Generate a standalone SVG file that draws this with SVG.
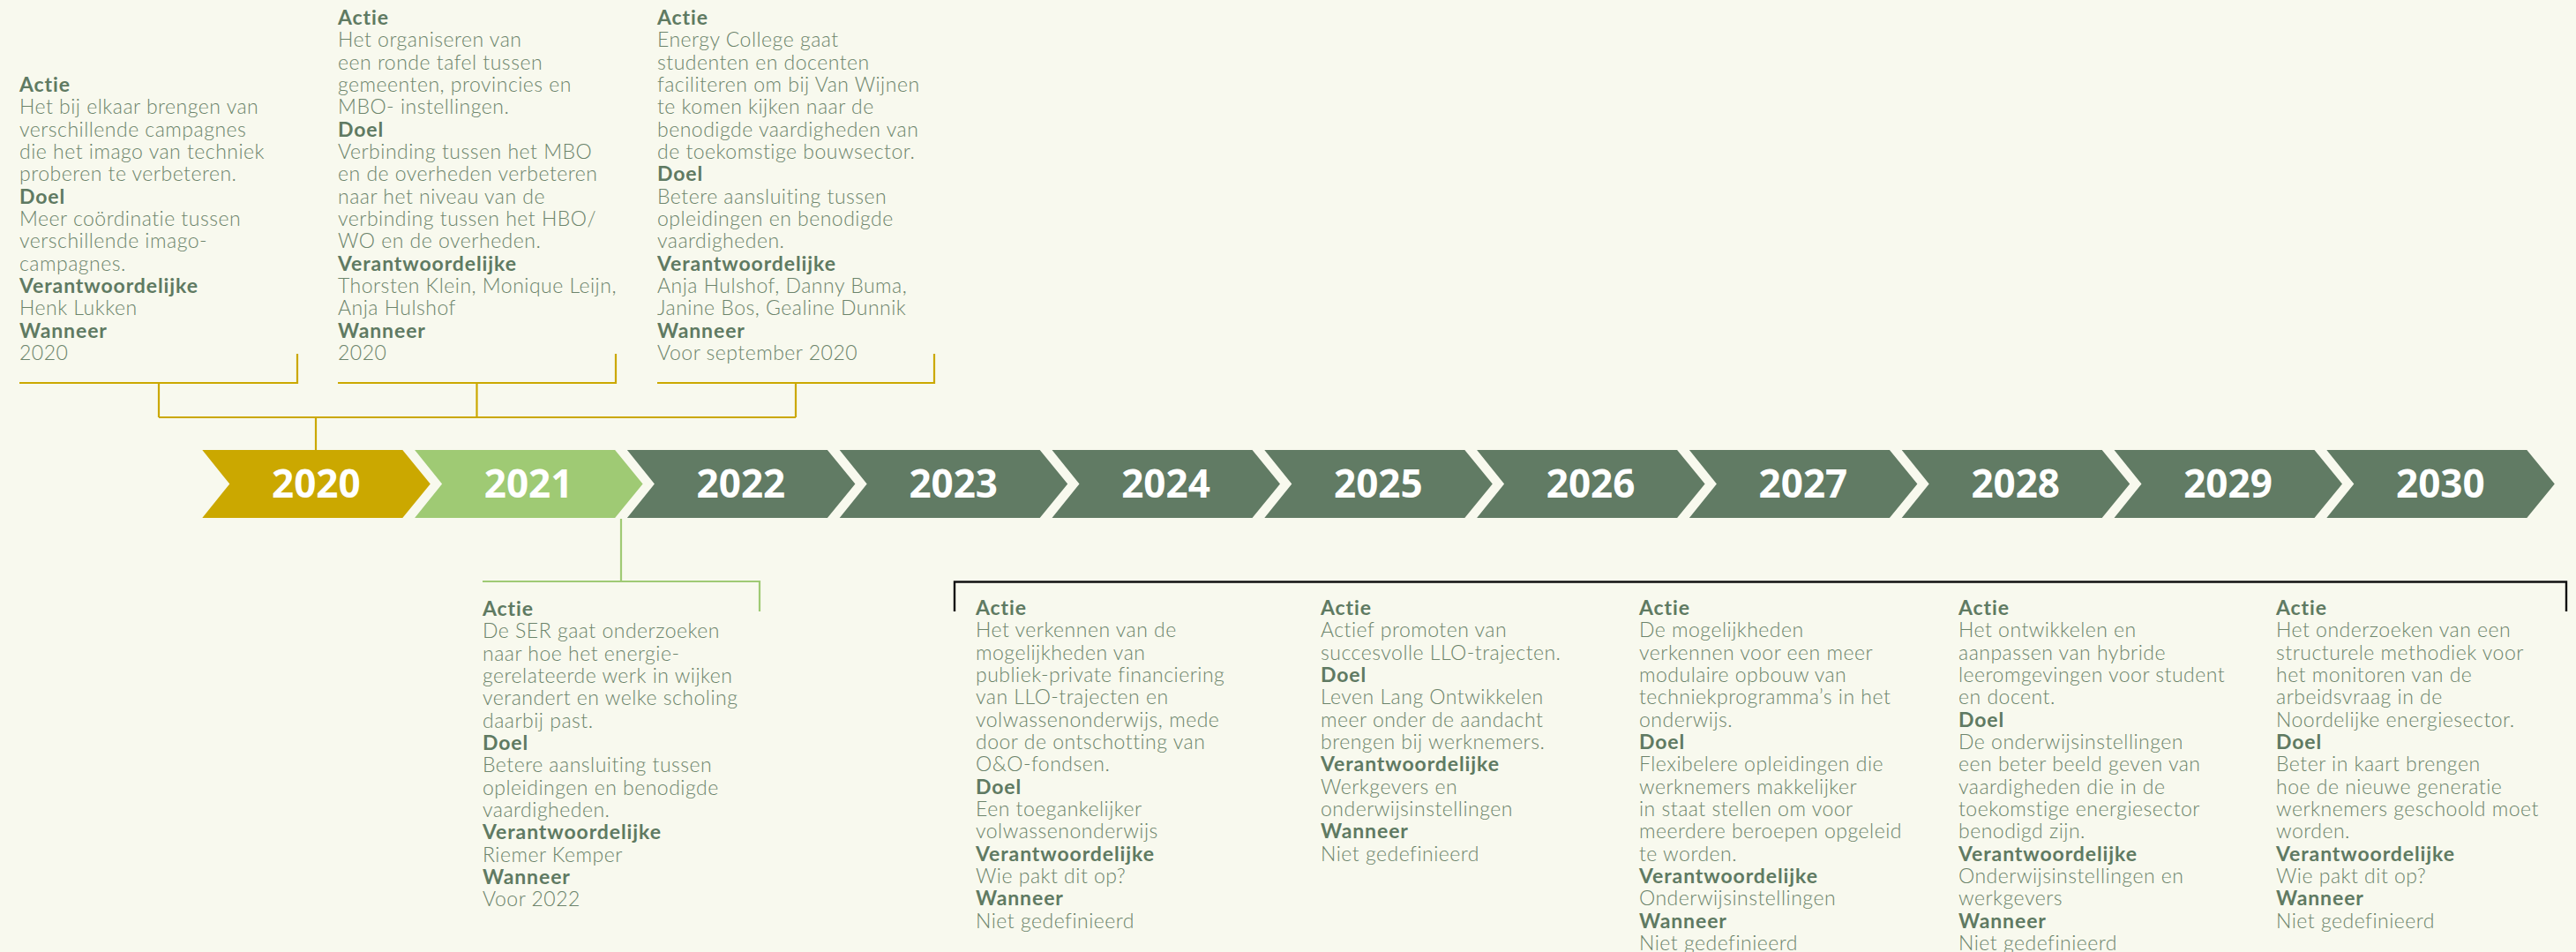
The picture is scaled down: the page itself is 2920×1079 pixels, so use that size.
<svg xmlns="http://www.w3.org/2000/svg" width="2920" height="1079" viewBox="0 0 2920 1079">
<style>
.bg{fill:#F8F9EE}
.y20{fill:#CBA800}
.y21{fill:#9FCA74}
.yd{fill:#617B64}
.yl{font-family:"Open Sans","Noto Sans",sans-serif;font-weight:700;font-size:44px;fill:#ffffff;text-anchor:middle}
.card{font-family:Lato,"Liberation Sans",sans-serif;font-size:23px;font-weight:300;letter-spacing:0.5px;fill:#6C846B}
.h{font-weight:700;letter-spacing:0.9px;fill:#5F7A62}
.c-gold{stroke:#CBA800;stroke-width:2.2;fill:none}
.c-green{stroke:#9FCA74;stroke-width:2.2;fill:none}
.c-black{stroke:#111111;stroke-width:2.4;fill:none}
</style>
<defs>
<path id="chev" d="M0,510 L227,510 L258.5,548.5 L227,587 L0,587 L31,548.5 Z"/>
</defs>
<rect class="bg" x="0" y="0" width="2920" height="1079"/>

<g id="connectors">
<polyline class="c-gold" points="22,434 337,434 337,401"/>
<polyline class="c-gold" points="383,434 698,434 698,401"/>
<polyline class="c-gold" points="745,434 1059,434 1059,401"/>
<line class="c-gold" x1="180" y1="434" x2="180" y2="473"/>
<line class="c-gold" x1="540.5" y1="434" x2="540.5" y2="473"/>
<line class="c-gold" x1="902" y1="434" x2="902" y2="473"/>
<line class="c-gold" x1="180" y1="473" x2="902" y2="473"/>
<line class="c-gold" x1="358" y1="473" x2="358" y2="510"/>
<line class="c-green" x1="704" y1="588" x2="704" y2="659"/>
<polyline class="c-green" points="547,659 861,659 861,693"/>
<polyline class="c-black" points="1082,693 1082,659.5 2909,659.5 2909,693"/>
</g>

<g id="year-2020"><use href="#chev" x="229.3" class="y20"/><text class="yl" x="358.3" y="564">2020</text></g>
<g id="year-2021"><use href="#chev" x="470.1" class="y21"/><text class="yl" x="599.1" y="564">2021</text></g>
<g id="year-2022"><use href="#chev" x="710.9" class="yd"/><text class="yl" x="839.9" y="564">2022</text></g>
<g id="year-2023"><use href="#chev" x="951.7" class="yd"/><text class="yl" x="1080.7" y="564">2023</text></g>
<g id="year-2024"><use href="#chev" x="1192.5" class="yd"/><text class="yl" x="1321.5" y="564">2024</text></g>
<g id="year-2025"><use href="#chev" x="1433.3" class="yd"/><text class="yl" x="1562.3" y="564">2025</text></g>
<g id="year-2026"><use href="#chev" x="1674.1" class="yd"/><text class="yl" x="1803.1" y="564">2026</text></g>
<g id="year-2027"><use href="#chev" x="1914.9" class="yd"/><text class="yl" x="2043.9" y="564">2027</text></g>
<g id="year-2028"><use href="#chev" x="2155.7" class="yd"/><text class="yl" x="2284.7" y="564">2028</text></g>
<g id="year-2029"><use href="#chev" x="2396.5" class="yd"/><text class="yl" x="2525.5" y="564">2029</text></g>
<g id="year-2030"><use href="#chev" x="2637.3" class="yd"/><text class="yl" x="2766.3" y="564">2030</text></g>

<g id="card-2020-a">
<text class="card" x="22" y="104">
<tspan class="h" x="22">Actie</tspan>
<tspan x="22" dy="25.33">Het bij elkaar brengen van</tspan>
<tspan x="22" dy="25.33">verschillende campagnes</tspan>
<tspan x="22" dy="25.33">die het imago van techniek</tspan>
<tspan x="22" dy="25.33">proberen te verbeteren.</tspan>
<tspan class="h" x="22" dy="25.33">Doel</tspan>
<tspan x="22" dy="25.33">Meer coördinatie tussen</tspan>
<tspan x="22" dy="25.33">verschillende imago-</tspan>
<tspan x="22" dy="25.33">campagnes.</tspan>
<tspan class="h" x="22" dy="25.33">Verantwoordelijke</tspan>
<tspan x="22" dy="25.33">Henk Lukken</tspan>
<tspan class="h" x="22" dy="25.33">Wanneer</tspan>
<tspan x="22" dy="25.33">2020</tspan>
</text>
</g>

<g id="card-2020-b">
<text class="card" x="383" y="28">
<tspan class="h" x="383">Actie</tspan>
<tspan x="383" dy="25.33">Het organiseren van</tspan>
<tspan x="383" dy="25.33">een ronde tafel tussen</tspan>
<tspan x="383" dy="25.33">gemeenten, provincies en</tspan>
<tspan x="383" dy="25.33">MBO- instellingen.</tspan>
<tspan class="h" x="383" dy="25.33">Doel</tspan>
<tspan x="383" dy="25.33">Verbinding tussen het MBO</tspan>
<tspan x="383" dy="25.33">en de overheden verbeteren</tspan>
<tspan x="383" dy="25.33">naar het niveau van de</tspan>
<tspan x="383" dy="25.33">verbinding tussen het HBO/</tspan>
<tspan x="383" dy="25.33">WO en de overheden.</tspan>
<tspan class="h" x="383" dy="25.33">Verantwoordelijke</tspan>
<tspan x="383" dy="25.33">Thorsten Klein, Monique Leijn,</tspan>
<tspan x="383" dy="25.33">Anja Hulshof</tspan>
<tspan class="h" x="383" dy="25.33">Wanneer</tspan>
<tspan x="383" dy="25.33">2020</tspan>
</text>
</g>

<g id="card-2020-c">
<text class="card" x="745" y="28">
<tspan class="h" x="745">Actie</tspan>
<tspan x="745" dy="25.33">Energy College gaat</tspan>
<tspan x="745" dy="25.33">studenten en docenten</tspan>
<tspan x="745" dy="25.33">faciliteren om bij Van Wijnen</tspan>
<tspan x="745" dy="25.33">te komen kijken naar de</tspan>
<tspan x="745" dy="25.33">benodigde vaardigheden van</tspan>
<tspan x="745" dy="25.33">de toekomstige bouwsector.</tspan>
<tspan class="h" x="745" dy="25.33">Doel</tspan>
<tspan x="745" dy="25.33">Betere aansluiting tussen</tspan>
<tspan x="745" dy="25.33">opleidingen en benodigde</tspan>
<tspan x="745" dy="25.33">vaardigheden.</tspan>
<tspan class="h" x="745" dy="25.33">Verantwoordelijke</tspan>
<tspan x="745" dy="25.33">Anja Hulshof, Danny Buma,</tspan>
<tspan x="745" dy="25.33">Janine Bos, Gealine Dunnik</tspan>
<tspan class="h" x="745" dy="25.33">Wanneer</tspan>
<tspan x="745" dy="25.33">Voor september 2020</tspan>
</text>
</g>

<g id="card-2021">
<text class="card" x="547" y="698">
<tspan class="h" x="547">Actie</tspan>
<tspan x="547" dy="25.33">De SER gaat onderzoeken</tspan>
<tspan x="547" dy="25.33">naar hoe het energie-</tspan>
<tspan x="547" dy="25.33">gerelateerde werk in wijken</tspan>
<tspan x="547" dy="25.33">verandert en welke scholing</tspan>
<tspan x="547" dy="25.33">daarbij past.</tspan>
<tspan class="h" x="547" dy="25.33">Doel</tspan>
<tspan x="547" dy="25.33">Betere aansluiting tussen</tspan>
<tspan x="547" dy="25.33">opleidingen en benodigde</tspan>
<tspan x="547" dy="25.33">vaardigheden.</tspan>
<tspan class="h" x="547" dy="25.33">Verantwoordelijke</tspan>
<tspan x="547" dy="25.33">Riemer Kemper</tspan>
<tspan class="h" x="547" dy="25.33">Wanneer</tspan>
<tspan x="547" dy="25.33">Voor 2022</tspan>
</text>
</g>

<g id="card-later-1">
<text class="card" x="1106" y="697">
<tspan class="h" x="1106">Actie</tspan>
<tspan x="1106" dy="25.33">Het verkennen van de</tspan>
<tspan x="1106" dy="25.33">mogelijkheden van</tspan>
<tspan x="1106" dy="25.33">publiek-private financiering</tspan>
<tspan x="1106" dy="25.33">van LLO-trajecten en</tspan>
<tspan x="1106" dy="25.33">volwassenonderwijs, mede</tspan>
<tspan x="1106" dy="25.33">door de ontschotting van</tspan>
<tspan x="1106" dy="25.33">O&amp;O-fondsen.</tspan>
<tspan class="h" x="1106" dy="25.33">Doel</tspan>
<tspan x="1106" dy="25.33">Een toegankelijker</tspan>
<tspan x="1106" dy="25.33">volwassenonderwijs</tspan>
<tspan class="h" x="1106" dy="25.33">Verantwoordelijke</tspan>
<tspan x="1106" dy="25.33">Wie pakt dit op?</tspan>
<tspan class="h" x="1106" dy="25.33">Wanneer</tspan>
<tspan x="1106" dy="25.33">Niet gedefinieerd</tspan>
</text>
</g>

<g id="card-later-2">
<text class="card" x="1497" y="697">
<tspan class="h" x="1497">Actie</tspan>
<tspan x="1497" dy="25.33">Actief promoten van</tspan>
<tspan x="1497" dy="25.33">succesvolle LLO-trajecten.</tspan>
<tspan class="h" x="1497" dy="25.33">Doel</tspan>
<tspan x="1497" dy="25.33">Leven Lang Ontwikkelen</tspan>
<tspan x="1497" dy="25.33">meer onder de aandacht</tspan>
<tspan x="1497" dy="25.33">brengen bij werknemers.</tspan>
<tspan class="h" x="1497" dy="25.33">Verantwoordelijke</tspan>
<tspan x="1497" dy="25.33">Werkgevers en</tspan>
<tspan x="1497" dy="25.33">onderwijsinstellingen</tspan>
<tspan class="h" x="1497" dy="25.33">Wanneer</tspan>
<tspan x="1497" dy="25.33">Niet gedefinieerd</tspan>
</text>
</g>

<g id="card-later-3">
<text class="card" x="1858" y="697">
<tspan class="h" x="1858">Actie</tspan>
<tspan x="1858" dy="25.33">De mogelijkheden</tspan>
<tspan x="1858" dy="25.33">verkennen voor een meer</tspan>
<tspan x="1858" dy="25.33">modulaire opbouw van</tspan>
<tspan x="1858" dy="25.33">techniekprogramma’s in het</tspan>
<tspan x="1858" dy="25.33">onderwijs.</tspan>
<tspan class="h" x="1858" dy="25.33">Doel</tspan>
<tspan x="1858" dy="25.33">Flexibelere opleidingen die</tspan>
<tspan x="1858" dy="25.33">werknemers makkelijker</tspan>
<tspan x="1858" dy="25.33">in staat stellen om voor</tspan>
<tspan x="1858" dy="25.33">meerdere beroepen opgeleid</tspan>
<tspan x="1858" dy="25.33">te worden.</tspan>
<tspan class="h" x="1858" dy="25.33">Verantwoordelijke</tspan>
<tspan x="1858" dy="25.33">Onderwijsinstellingen</tspan>
<tspan class="h" x="1858" dy="25.33">Wanneer</tspan>
<tspan x="1858" dy="25.33">Niet gedefinieerd</tspan>
</text>
</g>

<g id="card-later-4">
<text class="card" x="2220" y="697">
<tspan class="h" x="2220">Actie</tspan>
<tspan x="2220" dy="25.33">Het ontwikkelen en</tspan>
<tspan x="2220" dy="25.33">aanpassen van hybride</tspan>
<tspan x="2220" dy="25.33">leeromgevingen voor student</tspan>
<tspan x="2220" dy="25.33">en docent.</tspan>
<tspan class="h" x="2220" dy="25.33">Doel</tspan>
<tspan x="2220" dy="25.33">De onderwijsinstellingen</tspan>
<tspan x="2220" dy="25.33">een beter beeld geven van</tspan>
<tspan x="2220" dy="25.33">vaardigheden die in de</tspan>
<tspan x="2220" dy="25.33">toekomstige energiesector</tspan>
<tspan x="2220" dy="25.33">benodigd zijn.</tspan>
<tspan class="h" x="2220" dy="25.33">Verantwoordelijke</tspan>
<tspan x="2220" dy="25.33">Onderwijsinstellingen en</tspan>
<tspan x="2220" dy="25.33">werkgevers</tspan>
<tspan class="h" x="2220" dy="25.33">Wanneer</tspan>
<tspan x="2220" dy="25.33">Niet gedefinieerd</tspan>
</text>
</g>

<g id="card-later-5">
<text class="card" x="2580" y="697">
<tspan class="h" x="2580">Actie</tspan>
<tspan x="2580" dy="25.33">Het onderzoeken van een</tspan>
<tspan x="2580" dy="25.33">structurele methodiek voor</tspan>
<tspan x="2580" dy="25.33">het monitoren van de</tspan>
<tspan x="2580" dy="25.33">arbeidsvraag in de</tspan>
<tspan x="2580" dy="25.33">Noordelijke energiesector.</tspan>
<tspan class="h" x="2580" dy="25.33">Doel</tspan>
<tspan x="2580" dy="25.33">Beter in kaart brengen</tspan>
<tspan x="2580" dy="25.33">hoe de nieuwe generatie</tspan>
<tspan x="2580" dy="25.33">werknemers geschoold moet</tspan>
<tspan x="2580" dy="25.33">worden.</tspan>
<tspan class="h" x="2580" dy="25.33">Verantwoordelijke</tspan>
<tspan x="2580" dy="25.33">Wie pakt dit op?</tspan>
<tspan class="h" x="2580" dy="25.33">Wanneer</tspan>
<tspan x="2580" dy="25.33">Niet gedefinieerd</tspan>
</text>
</g>
</svg>
